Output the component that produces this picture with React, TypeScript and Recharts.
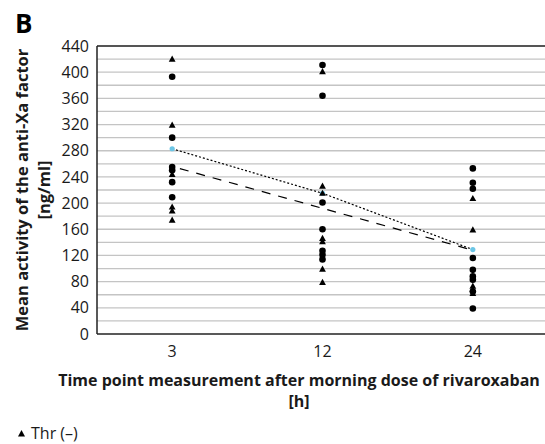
import { ScatterChart, Scatter, XAxis, YAxis, ReferenceLine } from 'recharts';

const timePoints = ['3', '12', '24'];
// Thr (-) measurements, one list per time point
const thrNegative = [
  [420, 319, 244, 194, 188, 174],
  [401, 226, 215, 146, 141, 99, 79],
  [207, 159, 73, 68, 62],
];
// remaining patients (circles)
const thrPositive = [
  [393, 300, 255, 250, 232, 209],
  [411, 364, 201, 160, 127, 121, 114],
  [253, 231, 222, 116, 98, 88, 83, 65, 39],
];
const meanDotted = [283, 215, 129];
const meanDashed = [256, 192, 128];
const yTicks = [0, 40, 80, 120, 160, 200, 240, 280, 320, 360, 400, 440];
const gridValues = [20, 40, 60, 80, 100, 120, 140, 160, 180, 200, 220, 240, 260, 280, 300, 320, 340, 360, 380, 400, 420];

const FONT = '"Open Sans", sans-serif';

const toPoints = (groups: number[][]) =>
  groups.flatMap((vals, i) => vals.map((v) => ({ x: i + 0.5, y: v })));
const meanPoints = (vals: number[]) => vals.map((v, i) => ({ x: i + 0.5, y: v }));

const Triangle = (props: any) => {
  const { cx, cy } = props;
  return <polygon points={`${cx},${cy - 3.6} ${cx + 3.4},${cy + 2.6} ${cx - 3.4},${cy + 2.6}`} fill="#000" />;
};
const Dot = (props: any) => <circle cx={props.cx} cy={props.cy} r={3.3} fill="#000" />;
const MeanDot = (props: any) => <circle cx={props.cx} cy={props.cy} r={2.6} fill="#6cc6e6" />;
const Nothing = () => <g />;

export default function App() {
  return (
    <div style={{ position: 'absolute', left: 0, top: 0, width: 545, height: 444, overflow: 'hidden', background: '#fff' }}>
      <ScatterChart width={548} height={444} margin={{ top: 46, right: 0, left: 0, bottom: 0 }}>
        {gridValues.map((g) => (
          <ReferenceLine key={g} y={g} stroke="#c4c4c4" strokeWidth={1.3} />
        ))}
        <XAxis
          type="number"
          dataKey="x"
          domain={[0, 3]}
          ticks={[0.5, 1.5, 2.5]}
          tickFormatter={(v: number) => timePoints[Math.floor(v)]}
          tickLine={false}
          tickMargin={6}
          axisLine={{ stroke: '#222', strokeWidth: 1.5 }}
          tick={{ fontSize: 16, fill: '#1a1a1a', fontFamily: FONT }}
          height={110}
        />
        <YAxis
          type="number"
          dataKey="y"
          domain={[0, 440]}
          ticks={yTicks}
          tickLine={false}
          axisLine={{ stroke: '#222', strokeWidth: 1.5 }}
          tick={{ fontSize: 16, fill: '#1a1a1a', fontFamily: FONT }}
          width={97}
        />
        <ReferenceLine y={440} stroke="#555" strokeWidth={2} />
        <Scatter
          data={meanPoints(meanDashed)}
          shape={Nothing}
          line={{ stroke: '#000', strokeWidth: 1.2, strokeDasharray: '9 8', strokeDashoffset: 9 }}
          isAnimationActive={false}
        />
        <Scatter
          data={meanPoints(meanDotted)}
          shape={MeanDot}
          line={{ stroke: '#000', strokeWidth: 1.2, strokeDasharray: '2 2' }}
          isAnimationActive={false}
        />
        <Scatter data={toPoints(thrPositive)} shape={Dot} isAnimationActive={false} />
        <Scatter data={toPoints(thrNegative)} shape={Triangle} isAnimationActive={false} />
      </ScatterChart>
      <svg width={545} height={444} style={{ position: 'absolute', left: 0, top: 0, pointerEvents: 'none' }}>
        <text x={15} y={33} fontFamily={FONT} fontWeight={700} fontSize={26} fill="#000">B</text>
        <g fontFamily={FONT} fontWeight={700} fill="#1a1a1a" textAnchor="middle">
          <text fontSize={16.5} transform="translate(28,190) rotate(-90)">Mean activity of the anti-Xa factor</text>
          <text fontSize={16.5} transform="translate(50,190) rotate(-90)">[ng/ml]</text>
          <text fontSize={16} x={299} y={386}>Time point measurement after morning dose of rivaroxaban</text>
          <text fontSize={16} x={299} y={407}>[h]</text>
        </g>
        <polygon points="21.5,430 25,436.5 18,436.5" fill="#000" />
        <text x={31} y={439} fontFamily={FONT} fontSize={16} fill="#1a1a1a">Thr (–)</text>
      </svg>
    </div>
  );
}
